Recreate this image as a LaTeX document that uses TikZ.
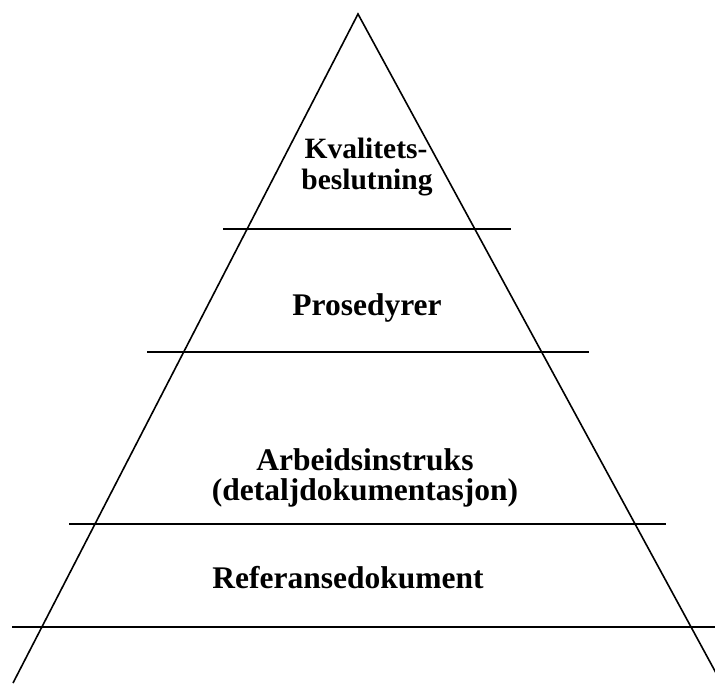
\documentclass[tikz,border=0pt]{standalone}
\usepackage{fontspec}
\setmainfont{Liberation Serif}
\begin{document}
\begin{tikzpicture}[x=1pt,y=1pt,
  edge/.style={line width=1.6pt,black},
  level/.style={font=\fontsize{31.5}{31.5}\selectfont\bfseries,anchor=base,inner sep=0pt},
  toplevel/.style={level,font=\fontsize{29.5}{29.5}\selectfont\bfseries}]
\useasboundingbox (0,0) rectangle (715,-684);
\clip (0,0) rectangle (715,-684);
% pyramid outline
\coordinate (apex) at (358,-14);
\coordinate (bl) at (13,-683);
\coordinate (br) at (722,-684);
\draw[edge] (bl) -- (apex) -- (br);
% level separators
\coordinate (a1) at (223,-229); \coordinate (b1) at (511,-229);
\coordinate (a2) at (147,-352); \coordinate (b2) at (589,-352);
\coordinate (a3) at (69,-524);  \coordinate (b3) at (666,-524);
\coordinate (a4) at (12,-627);  \coordinate (b4) at (715,-627);
\draw[edge] (a1) -- (b1);
\draw[edge] (a2) -- (b2);
\draw[edge] (a3) -- (b3);
\draw[edge] (a4) -- (b4);
% level labels
\node[toplevel] (kv1) at (366,-159) {Kvalitets-};
\node[toplevel] (kv2) at (367,-190) {beslutning};
\node[level] (pr) at (367,-316) {Prosedyrer};
\node[level] (ar1) at (365,-470) {Arbeidsinstruks};
\node[level] (ar2) at (365,-500) {(detaljdokumentasjon)};
\node[level] (re) at (348,-588) {Referansedokument};
\end{tikzpicture}
\end{document}
